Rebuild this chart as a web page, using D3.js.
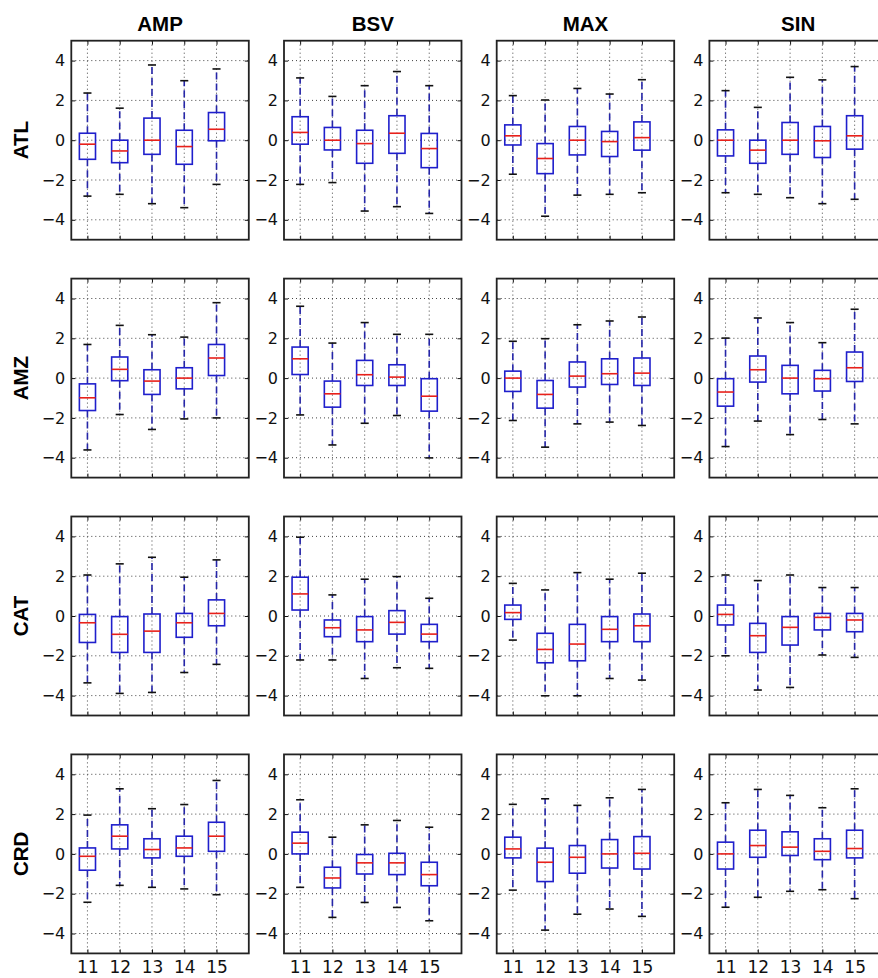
<!DOCTYPE html>
<html>
<head>
<meta charset="utf-8">
<script src="https://cdn.jsdelivr.net/npm/d3@7"></script>
<style>
  body { margin: 0; background: #fff; }
  svg { display: block; }
</style>
</head>
<body>
<div id="chart"></div>
<script>
var columns = ["AMP", "BSV", "MAX", "SIN"];
var rows = ["ATL", "AMZ", "CAT", "CRD"];
var years = [11, 12, 13, 14, 15];
var yTicks = [-4, -2, 0, 2, 4];

// one box per year: [low whisker, q1, median, q3, high whisker]
var ATL_AMP = [[-2.81, -0.96, -0.2, 0.35, 2.37], [-2.72, -1.13, -0.54, 0, 1.61], [-3.19, -0.71, 0, 1.11, 3.78], [-3.39, -1.21, -0.32, 0.5, 2.99], [-2.22, -0.03, 0.55, 1.39, 3.58]];
var ATL_BSV = [[-2.22, -0.2, 0.39, 1.18, 3.13], [-2.13, -0.49, 0, 0.64, 2.2], [-3.56, -1.16, -0.17, 0.5, 2.74], [-3.34, -0.66, 0.35, 1.23, 3.45], [-3.68, -1.38, -0.42, 0.34, 2.74]];
var ATL_MAX = [[-1.71, -0.24, 0.22, 0.77, 2.24], [-3.82, -1.68, -0.92, -0.17, 2.02], [-2.76, -0.74, 0, 0.69, 2.6], [-2.72, -0.82, -0.07, 0.44, 2.32], [-2.64, -0.5, 0.13, 0.92, 3.04]];
var ATL_SIN = [[-2.64, -0.79, 0, 0.52, 2.49], [-2.72, -1.16, -0.5, 0, 1.65], [-2.89, -0.71, 0, 0.89, 3.16], [-3.19, -0.87, -0.03, 0.69, 3.03], [-2.97, -0.45, 0.22, 1.23, 3.7]];

var AMZ_AMP = [[-3.61, -1.63, -0.99, -0.29, 1.69], [-1.83, -0.13, 0.44, 1.06, 2.65], [-2.58, -0.82, -0.15, 0.42, 2.18], [-2.05, -0.54, 0, 0.52, 2.06], [-2.0, 0.13, 1.01, 1.69, 3.79]];
var AMZ_BSV = [[-1.85, 0.18, 0.97, 1.56, 3.61], [-3.36, -1.46, -0.79, -0.15, 1.76], [-2.27, -0.37, 0.17, 0.89, 2.79], [-1.88, -0.37, 0.05, 0.67, 2.2], [-4.01, -1.66, -0.91, -0.03, 2.2]];
var AMZ_MAX = [[-2.13, -0.67, 0, 0.35, 1.85], [-3.47, -1.51, -0.82, -0.12, 1.98], [-2.3, -0.45, 0.1, 0.81, 2.68], [-2.21, -0.32, 0.22, 0.97, 2.87], [-2.38, -0.37, 0.25, 1.01, 3.07]];
var AMZ_SIN = [[-3.44, -1.41, -0.7, -0.03, 2.01], [-2.16, -0.2, 0.42, 1.11, 3.02], [-2.84, -0.79, 0, 0.64, 2.79], [-2.08, -0.65, -0.03, 0.39, 1.78], [-2.3, -0.17, 0.52, 1.31, 3.46]];

var CAT_AMP = [[-3.36, -1.33, -0.34, 0.08, 2.06], [-3.89, -1.83, -0.92, -0.03, 2.62], [-3.84, -1.83, -0.76, 0.1, 2.95], [-2.84, -1.07, -0.34, 0.13, 1.95], [-2.43, -0.49, 0.13, 0.81, 2.82]];
var CAT_BSV = [[-2.21, 0.3, 1.11, 1.95, 3.96], [-2.21, -1.04, -0.59, -0.2, 1.06], [-3.14, -1.29, -0.7, -0.03, 1.85], [-2.6, -0.91, -0.32, 0.27, 1.98], [-2.63, -1.29, -0.91, -0.42, 0.89]];
var CAT_MAX = [[-1.21, -0.17, 0.17, 0.55, 1.64], [-4.01, -2.35, -1.68, -0.87, 1.31], [-4.01, -2.25, -1.41, -0.42, 2.18], [-3.14, -1.29, -0.67, -0.03, 1.85], [-3.22, -1.29, -0.49, 0.1, 2.15]];
var CAT_SIN = [[-2.0, -0.45, 0.08, 0.55, 2.06], [-3.72, -1.83, -0.99, -0.37, 1.78], [-3.59, -1.46, -0.57, -0.03, 2.06], [-1.96, -0.7, -0.07, 0.13, 1.43], [-2.08, -0.79, -0.2, 0.13, 1.43]];

var CRD_AMP = [[-2.43, -0.82, -0.12, 0.3, 1.95], [-1.58, 0.25, 0.89, 1.46, 3.27], [-1.68, -0.2, 0.22, 0.76, 2.27], [-1.76, -0.12, 0.3, 0.89, 2.48], [-2.05, 0.13, 0.89, 1.59, 3.69]];
var CRD_BSV = [[-1.68, 0, 0.54, 1.09, 2.72], [-3.19, -1.71, -1.21, -0.67, 0.84], [-2.44, -1.01, -0.45, -0.03, 1.46], [-2.69, -1.04, -0.45, 0.03, 1.68], [-3.36, -1.6, -1.04, -0.42, 1.34]];
var CRD_MAX = [[-1.82, -0.2, 0.25, 0.84, 2.49], [-3.83, -1.39, -0.42, 0.29, 2.77], [-3.03, -0.97, -0.17, 0.42, 2.44], [-2.77, -0.71, 0, 0.72, 2.82], [-3.14, -0.76, 0.03, 0.87, 3.24]];
var CRD_SIN = [[-2.68, -0.76, 0, 0.59, 2.57], [-2.18, -0.17, 0.42, 1.19, 3.24], [-1.88, -0.08, 0.34, 1.11, 2.94], [-1.8, -0.29, 0.13, 0.76, 2.32], [-2.25, -0.2, 0.27, 1.19, 3.27]];

var panels = {
    ATL: { AMP: ATL_AMP, BSV: ATL_BSV, MAX: ATL_MAX, SIN: ATL_SIN },
    AMZ: { AMP: AMZ_AMP, BSV: AMZ_BSV, MAX: AMZ_MAX, SIN: AMZ_SIN },
    CAT: { AMP: CAT_AMP, BSV: CAT_BSV, MAX: CAT_MAX, SIN: CAT_SIN },
    CRD: { AMP: CRD_AMP, BSV: CRD_BSV, MAX: CRD_MAX, SIN: CRD_SIN }
};

var width = 878, height = 978;
var panelW = 177.5, panelH = 199;
var colX = d3.scaleLinear().domain([0, 1]).range([71.3, 284]);   // left edge of each column
var rowY = d3.scaleLinear().domain([0, 1]).range([40.7, 278.6]); // top edge of each row

var svg = d3.select("#chart").append("svg")
    .attr("width", width)
    .attr("height", height)
    .style("overflow", "hidden");

var x = d3.scaleLinear().domain([10.5, 16]).range([0, panelW]);
var y = d3.scaleLinear().domain([-5, 5]).range([panelH, 0]);

var boxHalf = 0.25, capHalf = 0.125;
var blue = "#1f1fcc";

rows.forEach(function (rowName, r) {
    columns.forEach(function (colName, c) {
        var g = svg.append("g")
            .attr("transform", "translate(" + colX(c) + "," + rowY(r) + ")");
        var stats = panels[rowName][colName];

        // grid
        var grid = g.append("g").attr("class", "grid")
            .attr("stroke", "#444").attr("stroke-width", 1)
            .attr("stroke-dasharray", "1,3");
        grid.selectAll(".gx").data(years).join("line")
            .attr("x1", d => x(d)).attr("x2", d => x(d))
            .attr("y1", 0).attr("y2", panelH);
        grid.selectAll(".gy").data(yTicks).join("line")
            .attr("x1", 0).attr("x2", panelW)
            .attr("y1", d => y(d)).attr("y2", d => y(d));

        var boxes = g.selectAll(".box").data(stats.map((s, i) => ({ year: years[i], s: s })))
            .join("g").attr("class", "box");

        // whiskers
        boxes.append("line")
            .attr("x1", d => x(d.year)).attr("x2", d => x(d.year))
            .attr("y1", d => y(d.s[3])).attr("y2", d => y(d.s[4]))
            .attr("stroke", "#2626a8").attr("stroke-width", 1.6)
            .attr("stroke-dasharray", "7,4");
        boxes.append("line")
            .attr("x1", d => x(d.year)).attr("x2", d => x(d.year))
            .attr("y1", d => y(d.s[1])).attr("y2", d => y(d.s[0]))
            .attr("stroke", "#2626a8").attr("stroke-width", 1.6)
            .attr("stroke-dasharray", "7,4");

        // caps
        [0, 4].forEach(function (k) {
            boxes.append("line")
                .attr("x1", d => x(d.year - capHalf)).attr("x2", d => x(d.year + capHalf))
                .attr("y1", d => y(d.s[k])).attr("y2", d => y(d.s[k]))
                .attr("stroke", "#111").attr("stroke-width", 1.6);
        });

        // box
        boxes.append("rect")
            .attr("x", d => x(d.year - boxHalf))
            .attr("width", d => x(d.year + boxHalf) - x(d.year - boxHalf))
            .attr("y", d => y(d.s[3]))
            .attr("height", d => y(d.s[1]) - y(d.s[3]))
            .attr("fill", "none").attr("stroke", blue).attr("stroke-width", 1.6);

        // median
        boxes.append("line")
            .attr("x1", d => x(d.year - boxHalf)).attr("x2", d => x(d.year + boxHalf))
            .attr("y1", d => y(d.s[2])).attr("y2", d => y(d.s[2]))
            .attr("stroke", "#e8201a").attr("stroke-width", 1.6);

        // axes with inward ticks
        var left = g.append("g")
            .call(d3.axisLeft(y).tickValues(yTicks).tickSizeInner(-4).tickSizeOuter(0).tickPadding(6));
        left.selectAll("text").attr("font-family", "DejaVu Sans").attr("font-size", 16).attr("fill", "#111");
        g.append("g").attr("transform", "translate(" + panelW + ",0)")
            .call(d3.axisRight(y).tickValues(yTicks).tickSizeInner(-4).tickSizeOuter(0).tickFormat(""));
        g.append("g")
            .call(d3.axisTop(x).tickValues(years).tickSizeInner(-4).tickSizeOuter(0).tickFormat(""));
        var bottom = g.append("g").attr("transform", "translate(0," + panelH + ")")
            .call(d3.axisBottom(x).tickValues(years).tickSizeInner(-4).tickSizeOuter(0).tickPadding(8)
                .tickFormat(r === rows.length - 1 ? d3.format("d") : ""));
        bottom.selectAll("text").attr("font-family", "DejaVu Sans").attr("font-size", 17).attr("fill", "#111");
        g.selectAll(".domain").remove();
        g.selectAll(".tick line").attr("stroke", "#111").attr("stroke-width", 1);

        // frame
        g.append("rect")
            .attr("width", panelW).attr("height", panelH)
            .attr("fill", "none").attr("stroke", "#222").attr("stroke-width", 1.8);

        if (r === 0) {
            g.append("text")
                .attr("x", panelW / 2).attr("y", -9.5)
                .attr("text-anchor", "middle")
                .attr("font-family", "Liberation Sans, Arial, sans-serif")
                .attr("font-weight", "bold").attr("font-size", 20.5)
                .text(colName);
        }
        if (c === 0) {
            g.append("text")
                .attr("transform", "translate(" + (28 - colX(0)) + "," + (panelH / 2) + ") rotate(-90)")
                .attr("text-anchor", "middle")
                .attr("font-family", "Liberation Sans, Arial, sans-serif")
                .attr("font-weight", "bold").attr("font-size", 20.5)
                .text(rowName);
        }
    });
});
</script>
</body>
</html>
